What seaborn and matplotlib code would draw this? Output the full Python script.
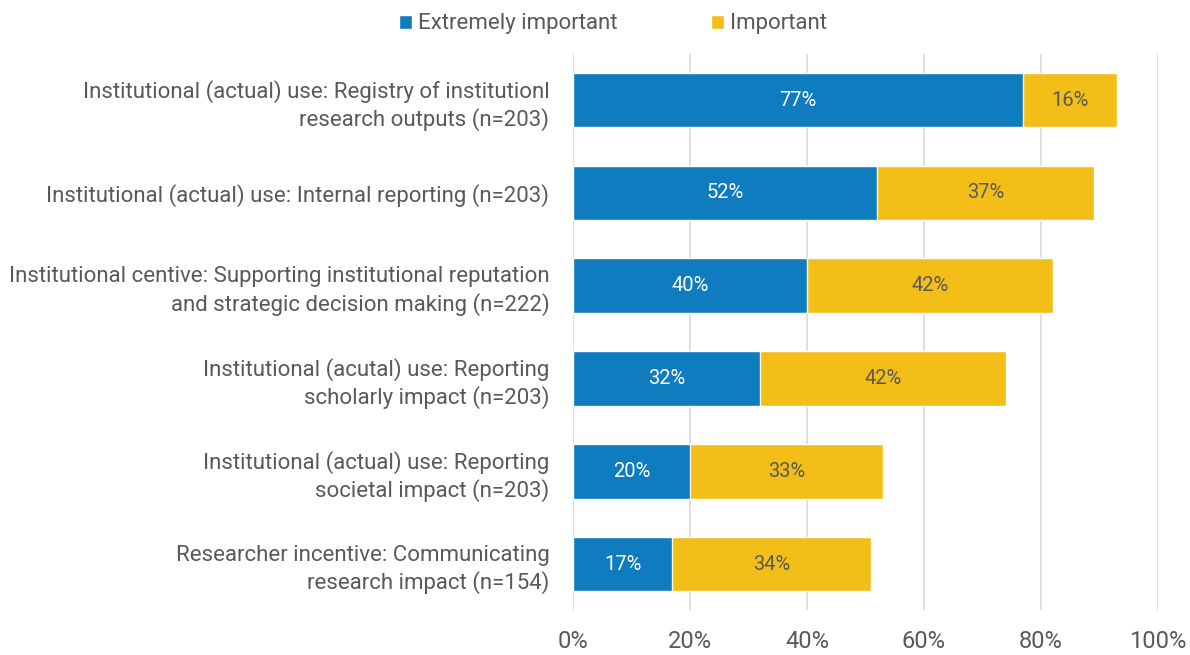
import pandas as pd
import matplotlib.pyplot as plt
import seaborn as sns

# Survey categories (top to bottom) and shares in percent
categories = [
    'Institutional (actual) use: Registry of institutionl\nresearch outputs (n=203)',
    'Institutional (actual) use: Internal reporting (n=203)',
    'Institutional centive: Supporting institutional reputation\nand strategic decision making (n=222)',
    'Institutional (acutal) use: Reporting\nscholarly impact (n=203)',
    'Institutional (actual) use: Reporting\nsocietal impact (n=203)',
    'Researcher incentive: Communicating\nresearch impact (n=154)',
]
extremely_important = [77, 52, 40, 32, 20, 17]
important = [16, 37, 42, 42, 33, 34]
x_ticks = [0, 20, 40, 60, 80, 100]

blue = '#0E7CBE'
yellow = '#F4BE18'
grey_text = '#595959'

df = pd.DataFrame({'category': categories,
                   'extreme': extremely_important,
                   'important': important})
df['total'] = df['extreme'] + df['important']

sns.set_theme(style='white')
plt.rcParams['font.family'] = ['Roboto', 'DejaVu Sans']

fig = plt.figure(figsize=(11.9, 6.55), dpi=100)
ax = fig.add_axes([0.4815, 0.068, 0.4915, 0.85])

# stacked: draw the total in yellow, then the blue part over it
sns.barplot(data=df, y='category', x='total', color=yellow, orient='h',
            width=0.59, saturation=1, ax=ax, label='Important', zorder=3)
sns.barplot(data=df, y='category', x='extreme', color=blue, orient='h',
            width=0.59, saturation=1, ax=ax, label='Extremely important', zorder=3)

for i, row in df.iterrows():
    ax.text(row['extreme'] / 2, i, f"{row['extreme']}%", color='white',
            ha='center', va='center', fontsize=14.5, zorder=4)
    ax.text(row['extreme'] + row['important'] / 2, i, f"{row['important']}%",
            color=grey_text, ha='center', va='center', fontsize=14.5, zorder=4)

ax.set_xlim(0, 100)
ax.set_xticks(x_ticks)
ax.set_xticklabels([f'{t}%' for t in x_ticks])
ax.xaxis.grid(True, color='#D9D9D9', linewidth=1.2, zorder=0)
ax.set_axisbelow(True)
ax.set_xlabel('')
ax.set_ylabel('')
for s in ax.spines.values():
    s.set_visible(False)
ax.tick_params(axis='x', labelsize=17, colors=grey_text, pad=14, length=0)
ax.tick_params(axis='y', labelsize=16, colors=grey_text, pad=17, length=0)
for lbl in ax.get_yticklabels():
    lbl.set_linespacing(1.3)

handles, labels = ax.get_legend_handles_labels()
order = [1, 0]
if ax.legend_:
    ax.legend_.remove()
fig.legend([handles[i] for i in order], [labels[i] for i in order],
           loc='upper center', bbox_to_anchor=(0.515, 1.01), ncol=2,
           frameon=False, fontsize=16, labelcolor=grey_text,
           handlelength=0.6, handleheight=0.6, handletextpad=0.25,
           columnspacing=4.2)

fig.savefig('out.png', dpi=100)
